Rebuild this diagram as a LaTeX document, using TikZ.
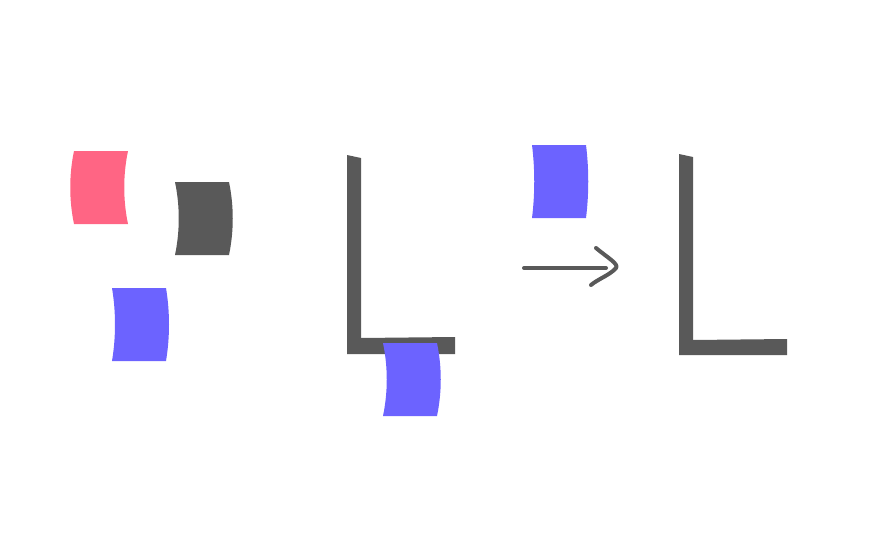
\documentclass[tikz,border=0pt]{standalone}
\usepackage{tikz}

\definecolor{ink}{HTML}{595959}
\definecolor{rose}{HTML}{FF6584}
\definecolor{violet}{HTML}{6C63FF}

\begin{document}
\begin{tikzpicture}[x=1pt,y=-1pt,
    card/.pic={\fill (0,0) -- (54,0) .. controls (54+#1,24) and (54+#1,49) .. (54,73)
                 -- (0,73) .. controls (#1,49) and (#1,24) .. (0,0) -- cycle;},
    stroke/.style={ink,line width=4pt,line cap=round,line join=round}]
    \useasboundingbox (0,0) rectangle (873,544);
    % loose pieces
    \pic[rose] at (74,151) {card=-5};
    \pic[ink] at (175,182) {card=5};
    \pic[violet] at (112,288) {card=4};
    % first frame
    \fill[ink] (347,155) -- (361,158) -- (361,338) -- (455,337) -- (455,354) -- (347,354) -- cycle;
    \pic[violet] at (383,343) {card=5};
    \pic[violet] at (532,145) {card=3};
    % arrow
    \coordinate (from) at (524,268);
    \coordinate (to) at (606,268);
    \coordinate (up) at (596,248);
    \coordinate (tip) at (616,268);
    \coordinate (down) at (591,285);
    \draw[stroke] (from) -- (to);
    \draw[stroke] (up) .. controls (608,258) and (619,264) .. (tip)
        .. controls (610,275) and (598,279) .. (down);
    % second frame
    \fill[ink] (679,154) -- (693,157) -- (693,340) -- (787,339) -- (787,355) -- (679,355) -- cycle;
\end{tikzpicture}
\end{document}
